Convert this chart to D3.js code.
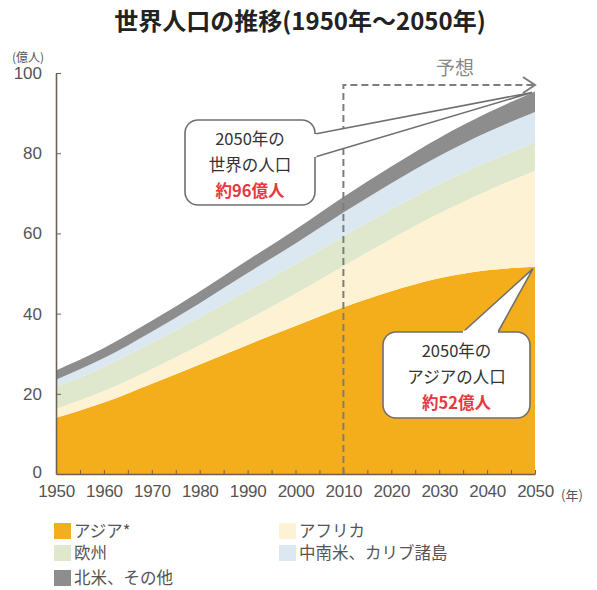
<!DOCTYPE html>
<html>
<head>
<meta charset="utf-8">
<style>
    body { margin: 0; background: #fff; }
    svg { font-family: "Noto Sans CJK JP", "Noto Sans", sans-serif; }
    .axis .domain { stroke: #6b6256; stroke-width: 1.6; }
    .axis .tick line { stroke: #6b6256; }
    .axis .tick text { fill: #555; font-size: 17px; }
    .callout text { font-size: 16.5px; fill: #333; text-anchor: middle; }
</style>
</head>
<body>
<svg width="597" height="590"></svg>

<script src="https://d3js.org/d3.v7.min.js"></script>
<script>
// 億人, every 10 years
let years = [1950, 1960, 1970, 1980, 1990, 2000, 2010, 2020, 2030, 2040, 2050];
let asia = [14.0, 17.8, 22.5, 27.3, 32.2, 36.9, 41.6, 45.6, 48.8, 50.8, 51.7];
let africa = [2.3, 2.9, 3.7, 4.8, 6.3, 8.1, 10.3, 13.0, 16.2, 19.8, 23.9];
let europe = [5.5, 6.0, 6.5, 6.9, 7.2, 7.3, 7.4, 7.4, 7.3, 7.2, 7.1];
let latam = [1.7, 2.2, 2.8, 3.6, 4.4, 5.2, 5.9, 6.5, 7.0, 7.4, 7.6];
let northam = [2.3, 2.5, 2.7, 2.9, 3.2, 3.5, 3.9, 4.2, 4.5, 4.8, 5.1];

let keys = ["asia", "africa", "europe", "latam", "northam"];
let labels = ["アジア*", "アフリカ", "欧州", "中南米、カリブ諸島", "北米、その他"];
let colors = ["#f4ae1c", "#fdf3d4", "#dfe8cc", "#dbe7f1", "#8d8d8d"];

let yTicks = [0, 20, 40, 60, 80, 100];
let xTicks = [1950, 1960, 1970, 1980, 1990, 2000, 2010, 2020, 2030, 2040, 2050];
let forecastYear = 2010;

let data = years.map((y, i) => ({
    year: y, asia: asia[i], africa: africa[i], europe: europe[i],
    latam: latam[i], northam: northam[i]
}));

let svg = d3.select("svg");

let x = d3.scaleLinear().domain([1950, 2050]).range([56, 535]);
let y = d3.scaleLinear().domain([0, 100]).range([474, 73]);

let color = d3.scaleOrdinal().domain(keys).range(colors);

let series = d3.stack().keys(keys)(data);

let area = d3.area()
    .x(d => x(d.data.year))
    .y0(d => y(d[0]))
    .y1(d => y(d[1]))
    .curve(d3.curveMonotoneX);

svg.append("g")
    .selectAll("path")
    .data(series)
    .join("path")
    .attr("fill", d => color(d.key))
    .attr("d", area);

// title
svg.append("text")
    .attr("x", 300).attr("y", 30)
    .attr("text-anchor", "middle")
    .style("font-size", "24px").style("font-weight", "bold").style("fill", "#222")
    .text("世界人口の推移(1950年～2050年)");

// axes
let yAxis = d3.axisLeft(y)
    .tickValues(yTicks)
    .tickSizeInner(-5).tickSizeOuter(0)
    .tickPadding(14);

svg.append("g")
    .attr("class", "axis y")
    .attr("transform", `translate(${x(1950)},0)`)
    .call(yAxis)
    .call(g => g.select(".domain").attr("stroke", "#666"))
    .call(g => g.selectAll(".tick").filter(d => d === 0).select("line").remove())
    .call(g => g.selectAll(".tick").filter(d => d === 0).select("text").attr("dy", "0.2em"));

let xAxis = d3.axisBottom(x)
    .tickValues(d3.range(1950, 2051, 5))
    .tickFormat(d => xTicks.includes(d) ? d : "")
    .tickSizeInner(-4).tickSizeOuter(0)
    .tickPadding(11);

svg.append("g")
    .attr("class", "axis x")
    .attr("transform", `translate(0,${y(0)})`)
    .call(xAxis)
    .call(g => g.selectAll(".tick text").attr("letter-spacing", "-0.3px"));

svg.append("text")
    .attr("x", 12).attr("y", 62)
    .style("font-size", "12px").style("fill", "#555")
    .text("(億人)");

svg.append("text")
    .attr("x", 561).attr("y", 500)
    .style("font-size", "13px").style("fill", "#555")
    .text("(年)");

// forecast dashed line + arrow
let topY = 85;
svg.append("path")
    .attr("d", `M${x(forecastYear)},${y(0)} V${topY} H${x(2050) - 2}`)
    .attr("fill", "none")
    .attr("stroke", "#7d7d7d")
    .attr("stroke-width", 2)
    .attr("stroke-dasharray", "7,4");

svg.append("path")
    .attr("d", `M${x(2050) - 12},${topY - 8} L${x(2050)},${topY} L${x(2050) - 12},${topY + 8}`)
    .attr("fill", "none")
    .attr("stroke", "#7d7d7d")
    .attr("stroke-width", 2);

svg.append("text")
    .attr("x", 455).attr("y", 75)
    .attr("text-anchor", "middle")
    .style("font-size", "19px").style("fill", "#888")
    .text("予想");

// callouts
let last = data[data.length - 1];
let worldTop = d3.sum(keys, k => last[k]);

function callout(box, tip, wedge, lines) {
    let g = svg.append("g").attr("class", "callout");
    g.append("rect")
        .attr("x", box.x).attr("y", box.y)
        .attr("width", box.w).attr("height", box.h)
        .attr("rx", 13)
        .attr("fill", "#fff")
        .attr("stroke", "#6f6f6f").attr("stroke-width", 1.6);
    g.append("path")
        .attr("d", `M${wedge[0][0]},${wedge[0][1]} L${tip[0]},${tip[1]} L${wedge[1][0]},${wedge[1][1]}`)
        .attr("fill", "#fff")
        .attr("stroke", "#6f6f6f").attr("stroke-width", 1.6);
    // hide box border under wedge base
    g.append("path")
        .attr("d", `M${wedge[0][0]},${wedge[0][1]} L${wedge[1][0]},${wedge[1][1]}`)
        .attr("stroke", "#fff").attr("stroke-width", 3);
    lines.forEach((l, i) => {
        g.append("text")
            .attr("x", box.x + box.w / 2)
            .attr("y", box.y + 25 + i * 26)
            .style("fill", l.red ? "#e8383d" : "#333")
            .style("font-weight", l.red ? "bold" : "normal")
            .text(l.t);
    });
}

callout({ x: 185, y: 120, w: 130, h: 85 },
    [x(2050) - 3, y(worldTop) + 1],
    [[315, 134], [315, 157]],
    [{ t: "2050年の" }, { t: "世界の人口" }, { t: "約96億人", red: true }]);

callout({ x: 383, y: 332, w: 147, h: 86 },
    [x(2050) - 2, y(last.asia) + 2],
    [[463, 332], [498, 332]],
    [{ t: "2050年の" }, { t: "アジアの人口" }, { t: "約52億人", red: true }]);

// legend
let legendPos = [[54, 531], [279, 531], [54, 553], [279, 553], [54, 578]];
let legend = svg.append("g")
    .selectAll("g")
    .data(keys)
    .join("g")
    .attr("transform", (d, i) => `translate(${legendPos[i][0]},${legendPos[i][1]})`);

legend.append("rect")
    .attr("x", 0).attr("y", -8)
    .attr("width", 17).attr("height", 16)
    .attr("fill", d => color(d));

legend.append("text")
    .attr("x", 20).attr("y", 6)
    .style("font-size", "16.5px").style("fill", "#555")
    .text((d, i) => labels[i]);
</script>
</body>
</html>
